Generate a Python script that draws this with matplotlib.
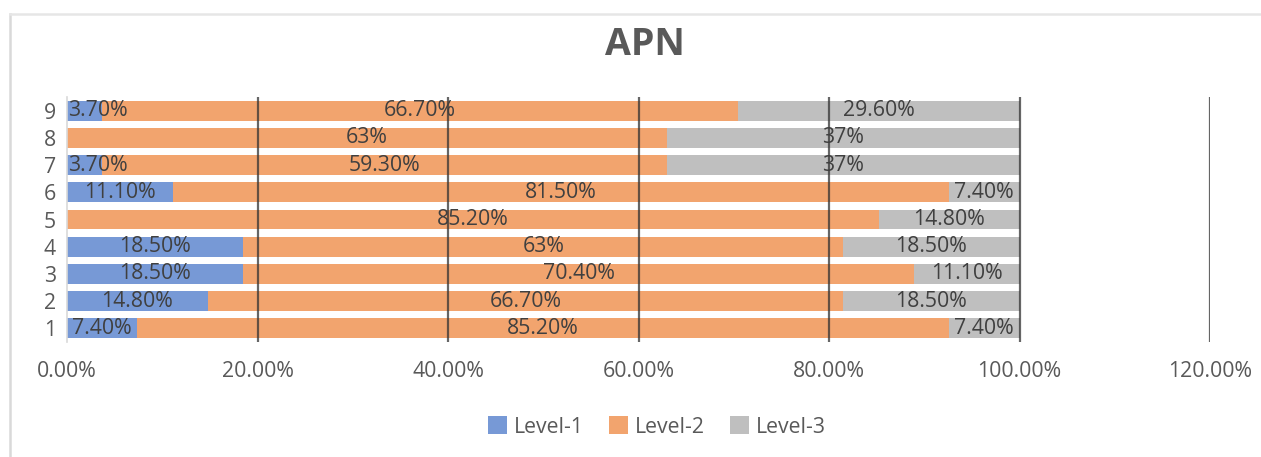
import matplotlib.pyplot as plt
from matplotlib.lines import Line2D

plt.rcParams["font.family"] = ["Open Sans", "DejaVu Sans"]

# %% Data

categories = ["1", "2", "3", "4", "5", "6", "7", "8", "9"]
level_1 = [7.40, 14.80, 18.50, 18.50, 0, 11.10, 3.70, 0, 3.70]
level_2 = [85.20, 66.70, 70.40, 63, 85.20, 81.50, 59.30, 63, 66.70]
level_3 = [7.40, 18.50, 11.10, 18.50, 14.80, 7.40, 37, 37, 29.60]
series_names = ["Level-1", "Level-2", "Level-3"]
colors = ["#7799D6", "#F2A46E", "#BFBFBF"]
xticks = [0, 20, 40, 60, 80, 100, 120]


def fmt(v):
    return f"{v:.0f}%" if float(v).is_integer() else f"{v:.2f}%"


# %% Plot

fig = plt.figure(figsize=(12.61, 4.57), dpi=100)
ax = fig.add_axes([67 / 1261, 1 - 342 / 457, (1210 - 67) / 1261, (342 - 97) / 457])

fs = 15.3
y = list(range(len(categories)))
left = [0.0] * len(categories)
for name, vals, c in zip(series_names, [level_1, level_2, level_3], colors):
    ax.barh(y, vals, left=left, height=0.73, color=c, label=name, zorder=2)
    for yi, (l, v) in enumerate(zip(left, vals)):
        if v == 0:
            continue
        xc = l + v / 2
        ha = "center"
        if xc - 3.2 < 0:  # too narrow, keep it inside the plot
            xc, ha = 0.1, "left"
        ax.text(xc, yi, fmt(v), ha=ha, va="center", fontsize=fs,
                color="#404040", zorder=4)
    left = [a + b for a, b in zip(left, vals)]

# Gridlines over the bars
for x in xticks[1:]:
    ax.axvline(x, color="#333333", lw=1.6, alpha=0.75, zorder=3)

ax.set_xlim(0, 120)
ax.set_ylim(-0.5, len(categories) - 0.5)
ax.set_xticks(xticks)
ax.set_xticklabels([f"{x:.2f}%" for x in xticks])
ax.set_yticks(y)
ax.set_yticklabels(categories)
ax.tick_params(axis="both", length=0, labelsize=fs, labelcolor="#595959")
ax.tick_params(axis="x", pad=14)
ax.tick_params(axis="y", pad=8)

for s in ["top", "right", "bottom"]:
    ax.spines[s].set_visible(False)
ax.spines["left"].set_color("#D9D9D9")
ax.spines["left"].set_linewidth(1.2)

fig.text(645 / 1261, 1 - 45 / 457, "APN", ha="center", va="center",
         fontsize=27, fontweight="bold", color="#595959")

fig.legend(loc="center", bbox_to_anchor=(657 / 1261, 1 - 427 / 457), ncol=3,
           frameon=False, fontsize=fs, labelcolor="#595959",
           handlelength=0.9, handleheight=0.9, handletextpad=0.3,
           columnspacing=1.2)

# Chart border (top and left edges)
fig.add_artist(Line2D([10 / 1261, 10 / 1261], [0, 1 - 14 / 457],
                      color="#D9D9D9", lw=1.8, transform=fig.transFigure))
fig.add_artist(Line2D([10 / 1261, 1], [1 - 14 / 457, 1 - 14 / 457],
                      color="#E6E6E6", lw=1.8, transform=fig.transFigure))

fig.savefig("out.png", dpi=100)
